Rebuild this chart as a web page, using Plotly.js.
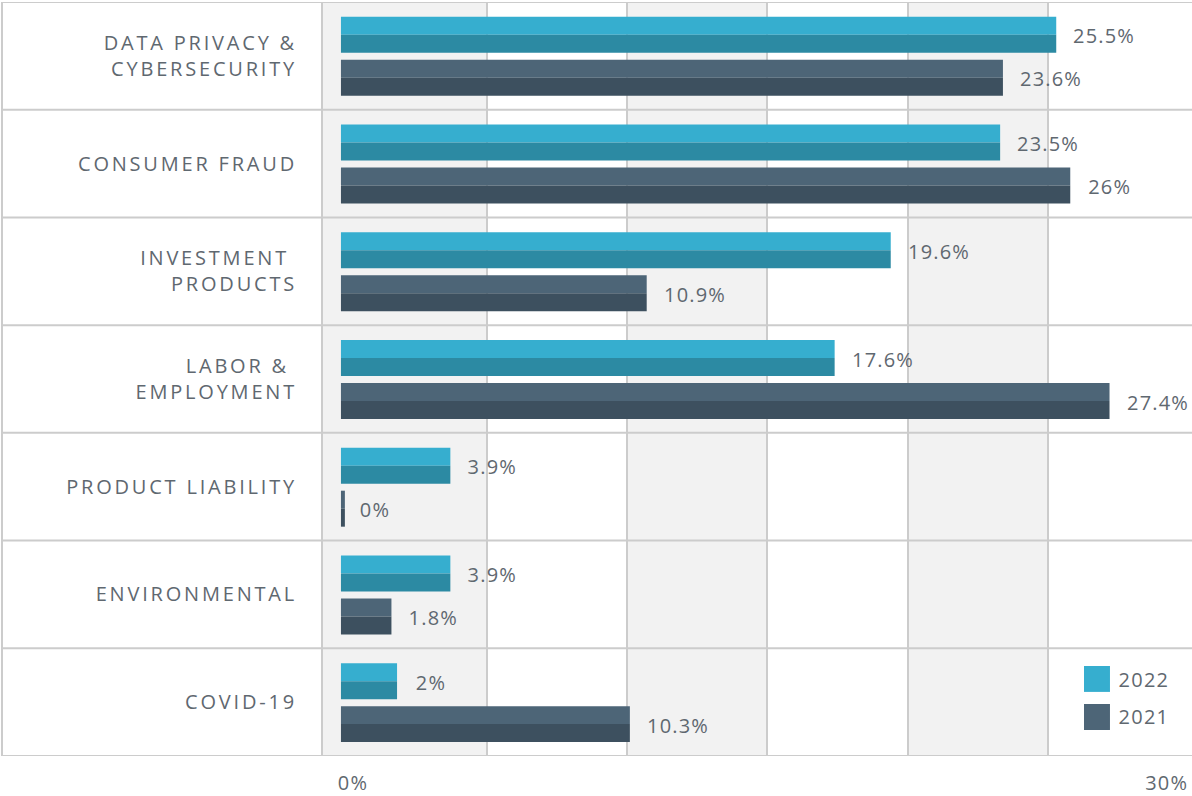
<!DOCTYPE html>
<html>
<head>
<meta charset="utf-8">
<script src="https://cdn.plot.ly/plotly-3.0.1.min.js"></script>
<style>
  html, body { margin: 0; padding: 0; background: #fff; }
  #graph { width: 1192px; height: 796px; }
  /* the original uses a wide, tracked typeface */
  #graph .ytick text { letter-spacing: 2.8px; }
  #graph .annotation-text { letter-spacing: 1.2px; }
</style>
</head>
<body>
<div id="graph"></div>
<script>
// categories, top to bottom
var categories = [
  'DATA PRIVACY &<br>CYBERSECURITY',
  'CONSUMER FRAUD',
  'INVESTMENT <br>PRODUCTS',
  'LABOR & <br>EMPLOYMENT',
  'PRODUCT LIABILITY',
  'ENVIRONMENTAL',
  'COVID-19'
];
var y2022 = [25.5, 23.5, 19.6, 17.6, 3.9, 3.9, 2.0];
var y2021 = [23.6, 26.0, 10.9, 27.4, 0.0, 1.8, 10.3];
var xTickLabels = ['0%', '30%'];

// colours: each bar is two-tone (lighter top half, darker bottom half)
var c22 = ['#36aecf', '#2c8aa3'];
var c21 = ['#4d6577', '#3d505f'];
var txt = '#5f6870';
var font = 'Open Sans, Lato, sans-serif';

// the reference draws a 0 value as a thin sliver
function shown(arr) { return arr.map(function (v) { return Math.max(v, 0.14); }); }

function half(vals, offset, color) {
  return {
    type: 'bar', orientation: 'h',
    y: categories, x: shown(vals),
    width: 0.167, offset: offset,
    marker: {color: color},
    hoverinfo: 'skip', showlegend: false
  };
}

var data = [
  half(y2022, -0.362, c22[0]),
  half(y2022, -0.195, c22[1]),
  half(y2021, 0.037, c21[0]),
  half(y2021, 0.204, c21[1])
];

var annotations = [];
categories.forEach(function (c, i) {
  annotations.push({x: y2022[i], y: c, xref: 'x', yref: 'y', text: y2022[i] + '%',
    showarrow: false, xanchor: 'left', yanchor: 'middle', xshift: 18, yshift: 20,
    font: {size: 20, color: txt, family: font}});
  annotations.push({x: y2021[i], y: c, xref: 'x', yref: 'y', text: y2021[i] + '%',
    showarrow: false, xanchor: 'left', yanchor: 'middle', xshift: 18, yshift: -23,
    font: {size: 20, color: txt, family: font}});
});
// x axis end labels
annotations.push({x: 0, y: -0.035, xref: 'x', yref: 'paper', text: xTickLabels[0],
  showarrow: false, xanchor: 'center', yanchor: 'middle', xshift: 12, borderpad: 0,
  font: {size: 20, color: txt, family: font}});
annotations.push({x: 30, y: -0.035, xref: 'x', yref: 'paper', text: xTickLabels[1],
  showarrow: false, xanchor: 'center', yanchor: 'middle', xshift: -16, borderpad: 0,
  font: {size: 20, color: txt, family: font}});
// legend
annotations.push({x: 0.9165, y: 0.102, xref: 'paper', yref: 'paper', text: '2022',
  showarrow: false, xanchor: 'left', yanchor: 'middle', font: {size: 20, color: txt, family: font}});
annotations.push({x: 0.9165, y: 0.052, xref: 'paper', yref: 'paper', text: '2021',
  showarrow: false, xanchor: 'left', yanchor: 'middle', font: {size: 20, color: txt, family: font}});

var lineCol = '#cccccc';
var shapes = [];
// alternating grey columns
[[-0.64, 5.2], [10.2, 15.2], [20.2, 25.2]].forEach(function (b) {
  shapes.push({type: 'rect', xref: 'x', yref: 'paper', x0: b[0], x1: b[1], y0: 0, y1: 1,
    fillcolor: '#f2f2f2', line: {width: 0}, layer: 'below'});
});
// row separators, running under the label column too
for (var i = 0; i <= categories.length; i++) {
  shapes.push({type: 'line', xref: 'paper', yref: 'y', x0: -0.3694, x1: 1, y0: i - 0.5, y1: i - 0.5,
    line: {color: lineCol, width: 2}, layer: 'below'});
}
// left border of the label column
shapes.push({type: 'line', xref: 'paper', yref: 'paper', x0: -0.3694, x1: -0.3694, y0: 0, y1: 1,
  line: {color: lineCol, width: 2}});
// legend swatches
shapes.push({type: 'rect', xref: 'paper', yref: 'paper', x0: 0.8757, x1: 0.9056, y0: 0.085, y1: 0.1194,
  fillcolor: c22[0], line: {width: 0}});
shapes.push({type: 'rect', xref: 'paper', yref: 'paper', x0: 0.8757, x1: 0.9056, y0: 0.0345, y1: 0.069,
  fillcolor: c21[0], line: {width: 0}});

var layout = {
  width: 1192, height: 796,
  margin: {l: 323, r: 0, t: 2, b: 40},
  paper_bgcolor: '#ffffff', plot_bgcolor: '#ffffff',
  barmode: 'overlay',
  showlegend: false,
  font: {family: font, color: txt},
  xaxis: {
    range: [-0.64, 30.34],
    tickvals: [5.2, 10.2, 15.2, 20.2, 25.2],
    showticklabels: false, ticks: '',
    showgrid: true, gridcolor: lineCol, gridwidth: 2,
    zeroline: false,
    showline: false
  },
  yaxis: {
    type: 'category',
    range: [6.5, -0.5],
    showgrid: false, zeroline: false,
    showline: true, linecolor: lineCol, linewidth: 2,
    ticks: '', ticklabelstandoff: 20,
    tickfont: {size: 20, color: txt, family: font}
  },
  shapes: shapes,
  annotations: annotations
};

Plotly.newPlot('graph', data, layout, {displayModeBar: false, staticPlot: true});
</script>
</body>
</html>
